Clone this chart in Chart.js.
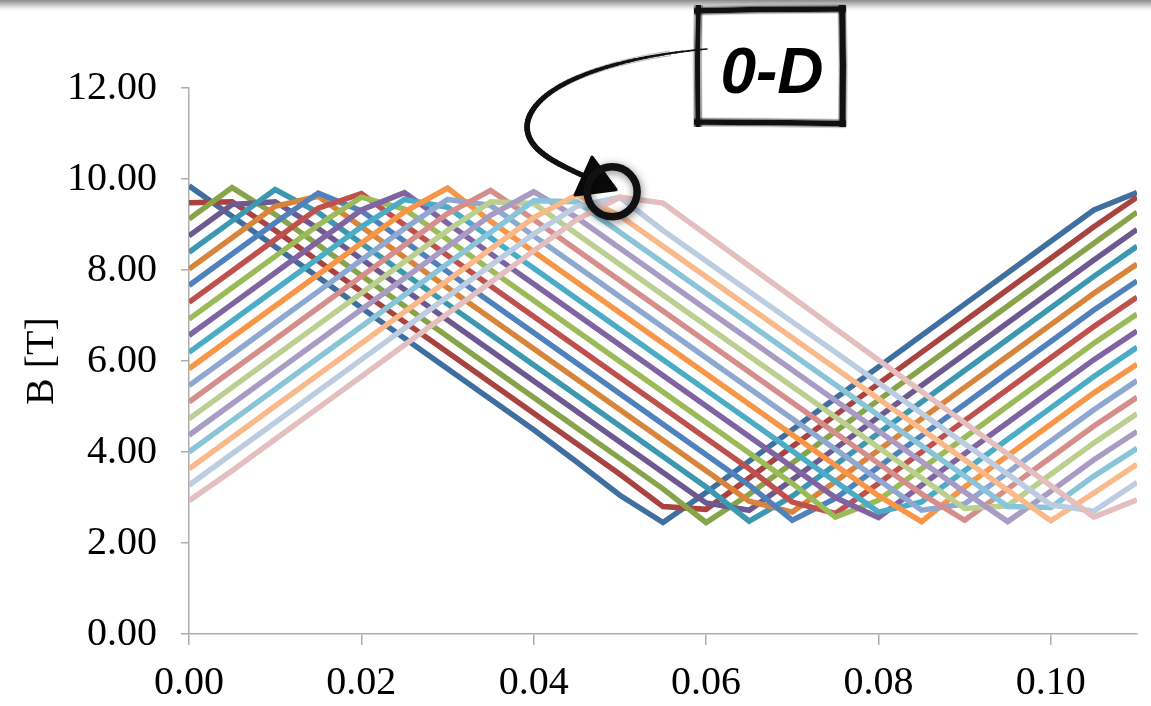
<!DOCTYPE html>
<html>
<head>
<meta charset="utf-8">
<title>B [T] – 0-D</title>
<script src="https://cdn.jsdelivr.net/npm/chart.js@4.4.1/dist/chart.umd.min.js"></script>
<style>
  html, body { margin: 0; padding: 0; background: #ffffff; }
  #wrap { width: 1151px; height: 706px; position: relative; }
</style>
</head>
<body>
<div id="wrap"><canvas id="chart" width="1151" height="706"></canvas></div>
<script>
// Sample times [s]
const timeValues = [0, 0.005, 0.01, 0.015, 0.02, 0.025, 0.03, 0.035, 0.04, 0.045, 0.05, 0.055,
                    0.06, 0.065, 0.07, 0.075, 0.08, 0.085, 0.09, 0.095, 0.1, 0.105, 0.11];

// Field B [T] at each sample time, one array per phase-shifted trace
const trace01 = [9.85, 9.18, 8.51, 7.84, 7.17, 6.50, 5.83, 5.16, 4.49, 3.78, 3.05, 2.45, 3.11, 3.80, 4.49, 5.18, 5.87, 6.56, 7.25, 7.94, 8.63, 9.32, 9.70];
const trace02 = [9.48, 9.50, 8.87, 8.20, 7.53, 6.86, 6.19, 5.52, 4.85, 4.18, 3.51, 2.80, 2.74, 3.43, 4.12, 4.81, 5.50, 6.19, 6.88, 7.57, 8.26, 8.95, 9.60];
const trace03 = [9.12, 9.81, 9.22, 8.55, 7.88, 7.21, 6.54, 5.87, 5.20, 4.53, 3.86, 3.19, 2.45, 3.07, 3.76, 4.45, 5.14, 5.83, 6.52, 7.21, 7.90, 8.59, 9.27];
const trace04 = [8.75, 9.44, 9.50, 8.91, 8.24, 7.57, 6.90, 6.23, 5.56, 4.89, 4.22, 3.55, 2.88, 2.72, 3.39, 4.08, 4.77, 5.46, 6.15, 6.84, 7.53, 8.22, 8.89];
const trace05 = [8.39, 9.08, 9.77, 9.26, 8.59, 7.92, 7.25, 6.58, 5.91, 5.24, 4.57, 3.90, 3.23, 2.48, 3.03, 3.72, 4.41, 5.10, 5.79, 6.48, 7.17, 7.86, 8.52];
const trace06 = [8.02, 8.71, 9.40, 9.62, 8.95, 8.28, 7.61, 6.94, 6.27, 5.60, 4.93, 4.26, 3.59, 2.92, 2.68, 3.35, 4.04, 4.73, 5.42, 6.11, 6.80, 7.49, 8.13];
const trace07 = [7.66, 8.35, 9.04, 9.69, 9.30, 8.63, 7.96, 7.29, 6.62, 5.95, 5.28, 4.61, 3.94, 3.27, 2.50, 2.98, 3.67, 4.36, 5.05, 5.74, 6.43, 7.12, 7.76];
const trace08 = [7.29, 7.98, 8.67, 9.36, 9.68, 8.99, 8.32, 7.65, 6.98, 6.31, 5.64, 4.97, 4.30, 3.63, 2.90, 2.65, 3.31, 4.00, 4.69, 5.38, 6.07, 6.76, 7.40];
const trace09 = [6.92, 7.61, 8.30, 8.99, 9.60, 9.34, 8.67, 8.00, 7.33, 6.66, 5.99, 5.32, 4.65, 3.98, 3.31, 2.57, 2.94, 3.63, 4.32, 5.01, 5.70, 6.39, 7.03];
const trace10 = [6.56, 7.25, 7.94, 8.63, 9.32, 9.70, 9.03, 8.36, 7.69, 7.02, 6.35, 5.68, 5.01, 4.34, 3.67, 3.00, 2.56, 3.27, 3.96, 4.65, 5.34, 6.03, 6.66];
const trace11 = [6.19, 6.88, 7.57, 8.26, 8.95, 9.55, 9.38, 8.71, 8.04, 7.37, 6.70, 6.03, 5.36, 4.69, 4.02, 3.35, 2.68, 2.90, 3.59, 4.28, 4.97, 5.66, 6.30];
const trace12 = [5.83, 6.52, 7.21, 7.90, 8.59, 9.28, 9.80, 9.07, 8.40, 7.73, 7.06, 6.39, 5.72, 5.05, 4.38, 3.71, 3.04, 2.47, 3.23, 3.92, 4.61, 5.30, 5.93];
const trace13 = [5.46, 6.15, 6.84, 7.53, 8.22, 8.91, 9.55, 9.42, 8.75, 8.08, 7.41, 6.74, 6.07, 5.40, 4.73, 4.06, 3.39, 2.72, 2.86, 3.55, 4.24, 4.93, 5.57];
const trace14 = [5.10, 5.79, 6.48, 7.17, 7.86, 8.55, 9.24, 9.75, 9.11, 8.44, 7.77, 7.10, 6.43, 5.76, 5.09, 4.42, 3.75, 3.08, 2.50, 3.19, 3.88, 4.57, 5.20];
const trace15 = [4.73, 5.42, 6.11, 6.80, 7.49, 8.18, 8.87, 9.50, 9.46, 8.79, 8.12, 7.45, 6.78, 6.11, 5.44, 4.77, 4.10, 3.43, 2.76, 2.82, 3.51, 4.20, 4.84];
const trace16 = [4.37, 5.06, 5.75, 6.44, 7.13, 7.82, 8.51, 9.20, 9.72, 9.15, 8.48, 7.81, 7.14, 6.47, 5.80, 5.13, 4.46, 3.79, 3.12, 2.47, 3.14, 3.83, 4.45];
const trace17 = [4.00, 4.69, 5.38, 6.07, 6.76, 7.45, 8.14, 8.83, 9.52, 9.50, 8.83, 8.16, 7.49, 6.82, 6.15, 5.48, 4.81, 4.14, 3.47, 2.80, 2.78, 3.47, 4.08];
const trace18 = [3.63, 4.32, 5.01, 5.70, 6.39, 7.08, 7.77, 8.46, 9.15, 9.65, 9.19, 8.52, 7.85, 7.18, 6.51, 5.84, 5.17, 4.50, 3.83, 3.16, 2.49, 3.10, 3.73];
const trace19 = [3.27, 3.96, 4.65, 5.34, 6.03, 6.72, 7.41, 8.10, 8.79, 9.40, 9.60, 8.87, 8.20, 7.53, 6.86, 6.19, 5.52, 4.85, 4.18, 3.51, 2.84, 2.70, 3.33];
const trace20 = [2.93, 3.59, 4.28, 4.97, 5.66, 6.35, 7.04, 7.73, 8.42, 9.11, 9.60, 9.47, 8.78, 8.09, 7.40, 6.71, 6.02, 5.33, 4.64, 3.95, 3.26, 2.57, 2.95];

const traces = [trace01, trace02, trace03, trace04, trace05, trace06, trace07, trace08, trace09, trace10,
                trace11, trace12, trace13, trace14, trace15, trace16, trace17, trace18, trace19, trace20];

// Line colours, one per trace
const traceColors = [
  '#3F6FA0', '#A8433F', '#87A44B', '#6E5890', '#3C98B0', '#D9843B',
  '#4F81BD', '#C0504D', '#9BBB59', '#8064A2', '#4BACC6', '#F79646',
  '#8DA9D2', '#D58E8C', '#BBD090', '#A99CC4', '#8AC4D8', '#F9B98A',
  '#BCCDE2', '#E3BFBF'
];

// Axis ticks
const xTicks = [0, 0.02, 0.04, 0.06, 0.08, 0.10];
const yTicks = [0, 2, 4, 6, 8, 10, 12];

// Callout target on the plot (time, field)
const calloutTarget = { x: 0.0491, y: 9.72 };
const calloutText = '0-D';

const AXIS_GREY = '#ADADAD';
const SERIF = '"Liberation Serif", "Times New Roman", serif';
const LABEL_SIZE = 40;

// Grey shading band along the top edge of the page
const topShade = {
  id: 'topShade',
  beforeDraw(chart) {
    const ctx = chart.ctx;
    ctx.save();
    const g = ctx.createLinearGradient(0, 0, 0, 12);
    g.addColorStop(0, '#8a8a8a');
    g.addColorStop(0.25, '#b0b0b0');
    g.addColorStop(0.65, '#e8e8e8');
    g.addColorStop(1, 'rgba(255,255,255,0)');
    ctx.fillStyle = g;
    ctx.fillRect(0, 0, chart.width, 12);
    ctx.restore();
  }
};

// Offset a polyline sideways by `off` pixels
function offsetPath(pts, off) {
  return pts.map((p, i) => {
    const q = pts[Math.min(i + 1, pts.length - 1)];
    const r = pts[Math.max(i - 1, 0)];
    const dx = q[0] - r[0], dy = q[1] - r[1];
    const len = Math.hypot(dx, dy) || 1;
    return [p[0] - dy / len * off, p[1] + dx / len * off];
  });
}

function strokePoly(ctx, pts) {
  ctx.beginPath();
  pts.forEach((p, i) => (i ? ctx.lineTo(p[0], p[1]) : ctx.moveTo(p[0], p[1])));
  ctx.stroke();
}

// Brush-like stroke: a solid core plus a few thin offset bristles
function brushStroke(ctx, pts, width, bristles, cap) {
  ctx.lineCap = cap || 'butt';
  ctx.lineJoin = 'round';
  ctx.strokeStyle = '#111';
  ctx.globalAlpha = 1;
  ctx.lineWidth = width;
  strokePoly(ctx, pts);
  bristles.forEach(([off, w, a]) => {
    ctx.globalAlpha = a;
    ctx.lineWidth = w;
    strokePoly(ctx, offsetPath(pts, off));
  });
  ctx.globalAlpha = 1;
}

// Stroke whose width changes along the path
function taperedStroke(ctx, pts, widths) {
  ctx.strokeStyle = '#111';
  ctx.lineCap = 'round';
  const n = pts.length - 1;
  for (let i = 0; i < n; i++) {
    const t = i / n;
    let w = widths[0];
    for (let k = 1; k < widths.length; k++) {
      const t0 = (k - 1) / (widths.length - 1), t1 = k / (widths.length - 1);
      if (t >= t0 && t <= t1) { w = widths[k - 1] + (widths[k] - widths[k - 1]) * (t - t0) / (t1 - t0); break; }
    }
    ctx.lineWidth = w;
    ctx.beginPath();
    ctx.moveTo(pts[i][0], pts[i][1]);
    ctx.lineTo(pts[i + 1][0], pts[i + 1][1]);
    ctx.stroke();
  }
  // dry-brush fringes
  ctx.lineCap = 'butt';
  [[-2.4, 0.7, 0.45], [2.3, 0.7, 0.4]].forEach(([off, w, a]) => {
    ctx.globalAlpha = a;
    ctx.lineWidth = w;
    strokePoly(ctx, offsetPath(pts.slice(6), off));
  });
  ctx.globalAlpha = 1;
}

function sampleCubic(p0, p1, p2, p3, n) {
  const out = [];
  for (let i = 0; i <= n; i++) {
    const t = i / n, u = 1 - t;
    out.push([
      u*u*u*p0[0] + 3*u*u*t*p1[0] + 3*u*t*t*p2[0] + t*t*t*p3[0],
      u*u*u*p0[1] + 3*u*u*t*p1[1] + 3*u*t*t*p2[1] + t*t*t*p3[1]
    ]);
  }
  return out;
}

// "0-D" callout: rough box, curved arrow and ring around the target point
const callout = {
  id: 'callout',
  afterDraw(chart) {
    const ctx = chart.ctx;
    const xs = chart.scales.x, ys = chart.scales.y;
    const cx = xs.getPixelForValue(calloutTarget.x);
    const cy = ys.getPixelForValue(calloutTarget.y);
    ctx.save();

    // box
    const L = 699, T = 10, R = 841, B = 122;
    const edgeBristles = [[-3.2, 0.9, 0.6], [3.3, 0.9, 0.55], [-4.3, 0.6, 0.35], [4.2, 0.6, 0.3], [-1.5, 1.2, 0.8]];
    ctx.fillStyle = '#ffffff';
    ctx.fillRect(L, T, R - L, B - T);
    brushStroke(ctx, [[L - 5, T + 1], [L + 60, T - 0.5], [R + 5, T - 1]], 5.5, edgeBristles);
    brushStroke(ctx, [[R + 1, T - 5], [R + 2, T + 55], [R + 1.5, B + 5]], 6, edgeBristles);
    brushStroke(ctx, [[R + 5, B + 1.5], [L + 70, B + 0.5], [L - 5, B]], 5.5, edgeBristles);
    brushStroke(ctx, [[L - 1, B + 5], [L - 1.5, T + 50], [L - 0.5, T - 5]], 5, edgeBristles);

    // label
    ctx.fillStyle = '#000';
    ctx.font = 'italic bold 64px "Liberation Sans", Arial, sans-serif';
    ctx.textAlign = 'center';
    ctx.textBaseline = 'alphabetic';
    ctx.fillText(calloutText, (L + R) / 2 + 2, 93);

    // curved arrow from the box to the ring
    const seg1 = sampleCubic([L + 8, 49], [625, 56], [540, 80], [528, 120], 40);
    const seg2 = sampleCubic([528, 120], [521, 148], [556, 163], [584, 176], 24);
    const curve = seg1.concat(seg2.slice(1));
    taperedStroke(ctx, curve, [1.5, 3.2, 4.5, 5.5, 5.5, 5]);

    // arrow head
    ctx.fillStyle = '#0a0a0a';
    ctx.strokeStyle = '#0a0a0a';
    ctx.lineJoin = 'round';
    ctx.lineWidth = 3;
    ctx.beginPath();
    ctx.moveTo(592, 157);
    ctx.lineTo(575, 195);
    ctx.lineTo(cx + 4, cy - 2);
    ctx.closePath();
    ctx.fill();
    ctx.stroke();

    // ring
    ctx.shadowColor = 'rgba(0,0,0,0.5)';
    ctx.shadowBlur = 8;
    ctx.shadowOffsetX = 1;
    ctx.shadowOffsetY = 2;
    ctx.strokeStyle = '#111';
    ctx.lineWidth = 7.5;
    ctx.beginPath();
    ctx.arc(cx, cy, 25, 0, Math.PI * 2);
    ctx.stroke();
    ctx.restore();
  }
};

const datasets = traces.map((vals, k) => ({
  label: 'B' + (k + 1),
  data: timeValues.map((t, i) => ({ x: t, y: vals[i] })),
  borderColor: traceColors[k],
  backgroundColor: traceColors[k],
  borderWidth: 5.5,
  pointRadius: 0,
  tension: 0,
  fill: false,
  order: traces.length - 1 - k
}));

new Chart(document.getElementById('chart'), {
  type: 'line',
  data: { datasets },
  options: {
    responsive: false,
    animation: false,
    devicePixelRatio: 1,
    layout: { padding: { left: 0, right: 14, top: 88, bottom: 0 } },
    plugins: { legend: { display: false }, tooltip: { enabled: false } },
    elements: { line: { borderJoinStyle: 'miter', borderCapStyle: 'butt' } },
    scales: {
      x: {
        type: 'linear',
        min: 0,
        max: 0.11,
        afterBuildTicks: (s) => { s.ticks = xTicks.map(v => ({ value: v })); },
        afterFit: (s) => { s.height = 72; },
        ticks: {
          autoSkip: false,
          maxRotation: 0,
          padding: 14,
          color: '#000',
          font: { family: SERIF, size: LABEL_SIZE },
          callback: (v) => Number(v).toFixed(2)
        },
        grid: { drawOnChartArea: false, drawTicks: true, tickLength: 11, color: AXIS_GREY, lineWidth: 1.5 },
        border: { color: AXIS_GREY, width: 1.5 }
      },
      y: {
        type: 'linear',
        min: 0,
        max: 12,
        afterBuildTicks: (s) => { s.ticks = yTicks.map(v => ({ value: v })); },
        afterFit: (s) => { s.width = 189; },
        ticks: {
          autoSkip: false,
          padding: 24,
          color: '#000',
          font: { family: SERIF, size: LABEL_SIZE },
          callback: (v) => Number(v).toFixed(2)
        },
        grid: { drawOnChartArea: false, drawTicks: true, tickLength: 8, color: AXIS_GREY, lineWidth: 1.5 },
        border: { color: AXIS_GREY, width: 1.5 },
        title: {
          display: true,
          text: 'B [T]',
          color: '#000',
          font: { family: SERIF, size: LABEL_SIZE },
          padding: { top: 18, bottom: 0 }
        }
      }
    }
  },
  plugins: [topShade, callout]
});
</script>
</body>
</html>
